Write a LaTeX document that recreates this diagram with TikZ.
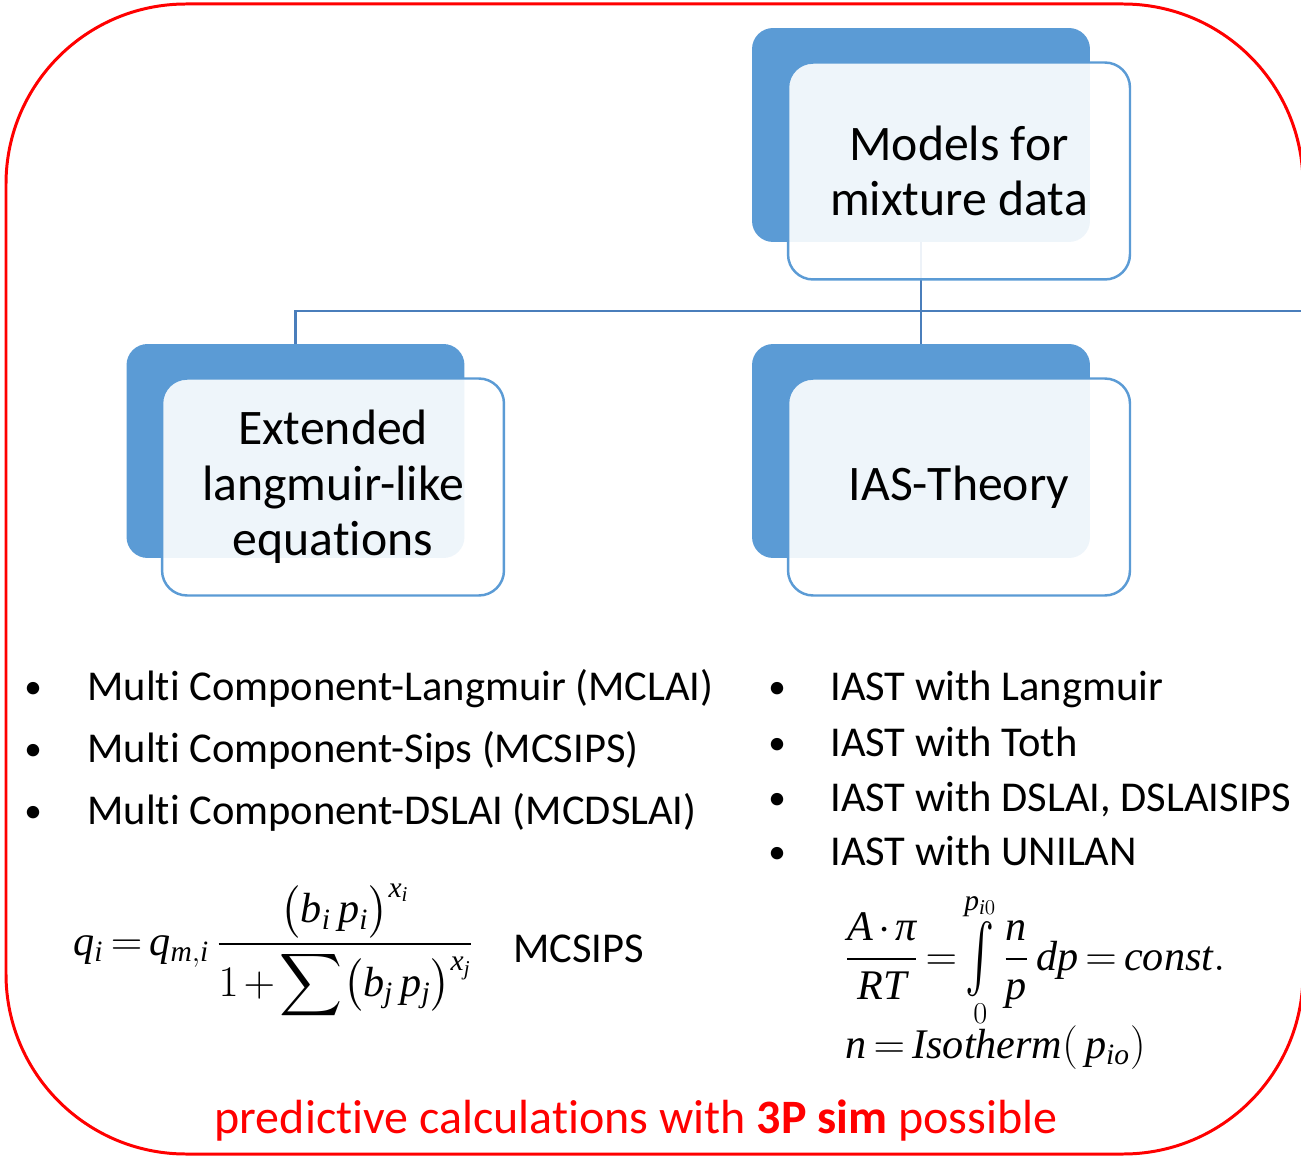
\documentclass[tikz,border=0pt]{standalone}
\usepackage{amsmath}
\usepackage{fontspec}
\setmainfont{Carlito}[Ligatures=NoCommon]
\newfontfamily\eqfont{Liberation Serif}[NFSSFamily=libser]
\DeclareSymbolFont{tletters}{TU}{libser}{m}{it}
\DeclareSymbolFont{tdigits}{TU}{libser}{m}{n}
\newcount\eqcnt
\eqcnt=65 \loop\Umathcode\eqcnt="7 \symtletters\eqcnt\advance\eqcnt by 1 \ifnum\eqcnt<91\repeat
\eqcnt=97 \loop\Umathcode\eqcnt="7 \symtletters\eqcnt\advance\eqcnt by 1 \ifnum\eqcnt<123\repeat
\eqcnt=48 \loop\Umathcode\eqcnt="7 \symtdigits\eqcnt\advance\eqcnt by 1 \ifnum\eqcnt<58\repeat
\Umathchardef\tpi="0 \symtletters "03C0
\newcommand\tallint{\mathop{\vcenter{\hbox{\scalebox{1}[1.55]{$\int$}}}}}
\newcommand\eqspacing{\thickmuskip=3mu\relax\medmuskip=2mu\relax}
\usetikzlibrary{calc,positioning}
\definecolor{boxblue}{RGB}{91,155,213}
\definecolor{linkblue}{RGB}{74,126,187}
\tikzset{
  backbox/.style={fill=boxblue,draw=none,rounded corners=0.42cm,minimum width=6.76cm,minimum height=4.28cm},
  frontbox/.style={fill=white,fill opacity=0.9,text opacity=1,draw=boxblue,line width=1.4pt,rounded corners=0.5cm,minimum width=6.84cm,minimum height=4.34cm},
  boxtext/.style={align=center,font=\fontsize{28.3}{31.7}\selectfont},
  itemtext/.style={anchor=base west,inner sep=0pt,font=\fontsize{24.2}{28}\selectfont},
  dot/.style={anchor=base,inner sep=0pt,font=\fontsize{20}{28}\selectfont},
  link/.style={draw=linkblue,line width=1.4pt},
  mathtext/.style={anchor=base west,inner sep=0pt,font=\fontsize{24}{28}\selectfont}
}
\begin{document}
\begin{tikzpicture}[x=0.02cm,y=-0.02cm]
\useasboundingbox(0,0)rectangle(1301,1158);
\clip(0,0)rectangle(1301,1158);
% red frame
\draw[red,line width=1.7pt,rounded corners=3.6cm](6,4)rectangle(1303,1154);
% back boxes
\node[backbox](topback)at(921,135){};
\node[backbox](leftback)at(295.5,451){};
\node[backbox](midback)at(921,451){};
% connectors
\coordinate(split)at(921,311);
\coordinate(rightbranch)at(1330,311);
\draw[link](topback.south)--(split)--(midback.north);
\draw[link](leftback.north)|-(rightbranch);
% front boxes
\node[frontbox](topfront)at(959,171){};
\node[frontbox](leftfront)at(333,487){};
\node[frontbox](midfront)at(959,487){};
\node[boxtext](toptext)at(topfront.center){Models for\\mixture data};
\node[boxtext](lefttext)at(leftfront.center){Extended\\langmuir-like\\equations};
\node[boxtext](midtext)at(midfront.center){IAS-Theory};
% left list
\node[dot](l1)at(33,698){\textbullet};
\node[dot](l2)at(33,760){\textbullet};
\node[dot](l3)at(33,822){\textbullet};
\node[itemtext](mclai)at(87,700){Multi Component-Langmuir (MCLAI)};
\node[itemtext](mcsips)at(87,762){Multi Component-Sips (MCSIPS)};
\node[itemtext](mcdslai)at(87,824){Multi Component-DSLAI (MCDSLAI)};
% right list
\node[dot](r1)at(777,698){\textbullet};
\node[dot](r2)at(777,754){\textbullet};
\node[dot](r3)at(777,809){\textbullet};
\node[dot](r4)at(777,863){\textbullet};
\node[itemtext](iastl)at(830,700){IAST with Langmuir};
\node[itemtext](iastt)at(830,756){IAST with Toth};
\node[itemtext](iastd)at(830,811){IAST with DSLAI, DSLAISIPS};
\node[itemtext](iastu)at(830,865){IAST with UNILAN};
% formulas
\node[mathtext](sipseq)at(73,955){$\eqspacing\displaystyle q_i=q_{m,i}\,\frac{\bigl(b_i\,p_i\bigr)^{x_i}}{1+\displaystyle\sum\bigl(b_j\,p_j\bigr)^{x_j}}$};
\node[itemtext](sipsname)at(513,962){MCSIPS};
\node[mathtext](iaseq)at(845,970){$\eqspacing\displaystyle \frac{A\cdot\tpi}{RT}=\tallint\limits_0^{p_{i0}}\frac{n}{p}\,dp=const.$};
\node[mathtext](isoeq)at(845,1058){$\eqspacing n=Isotherm(\,p_{io})$};
% bottom note
\node[anchor=base,inner sep=0pt,text=red,font=\fontsize{27.3}{32}\selectfont](note)at(636,1133){predictive calculations with \textbf{3P sim} possible};
\end{tikzpicture}
\end{document}
